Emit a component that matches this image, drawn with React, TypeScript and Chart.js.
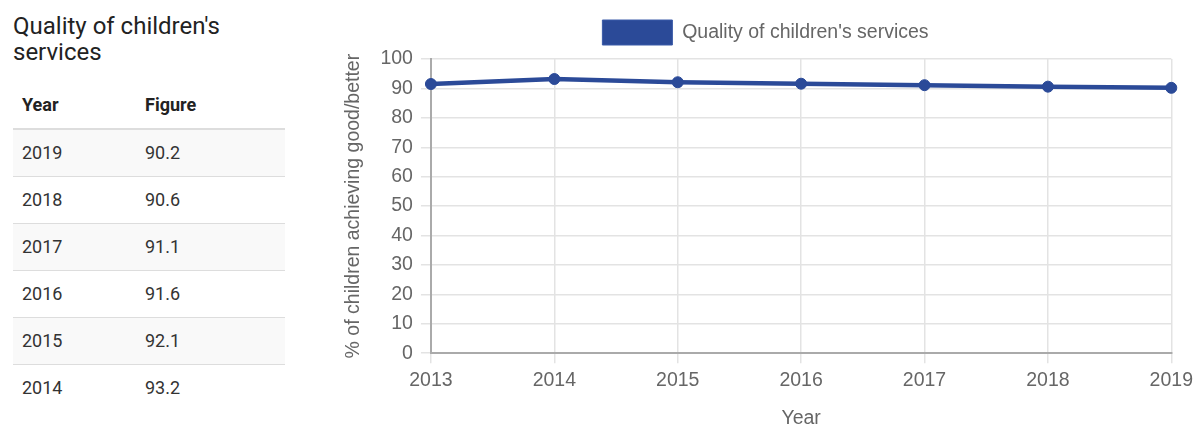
import React, { useEffect, useRef } from "react";
import { Chart, registerables } from "chart.js";

Chart.register(...registerables);

const chartYears = ["2013", "2014", "2015", "2016", "2017", "2018", "2019"];
const chartValues = [91.5, 93.2, 92.1, 91.6, 91.1, 90.6, 90.2];
const tableYears = ["2019", "2018", "2017", "2016", "2015", "2014"];
const tableFigures = ["90.2", "90.6", "91.1", "91.6", "92.1", "93.2"];
const seriesLabel = "Quality of children's services";
const yAxisTitle = "% of children achieving good/better";
const xAxisTitle = "Year";

const LINE = "#2b4a98";
const FONT = "'Liberation Sans', Arial, sans-serif";
const FS = 19.5;

const legendGap = {
  id: "legendGap",
  beforeInit(chart: any) {
    const legend = chart.legend;
    if (!legend) return;
    const orig = legend.fit;
    legend.fit = function () {
      orig.call(this);
      this.height += 4;
    };
  },
};

function LineChart() {
  const ref = useRef<HTMLCanvasElement | null>(null);
  useEffect(() => {
    if (!ref.current) return;
    const chart = new Chart(ref.current, {
      type: "line",
      data: {
        labels: chartYears,
        datasets: [
          {
            label: seriesLabel,
            data: chartValues,
            borderColor: LINE,
            backgroundColor: LINE,
            borderWidth: 4.5,
            pointRadius: 5.5,
            pointBackgroundColor: LINE,
            pointBorderColor: LINE,
            pointBorderWidth: 1,
            tension: 0,
            fill: false,
          },
        ],
      },
      plugins: [legendGap],
      options: {
        animation: false,
        responsive: false,
        maintainAspectRatio: false,
        layout: { padding: { top: 10, right: 10, bottom: 0, left: 7 } },
        plugins: {
          tooltip: { enabled: false },
          legend: {
            display: true,
            position: "top",
            labels: {
              boxWidth: 70,
              boxHeight: 25,
              color: "#666",
              padding: 10,
              font: { family: FONT, size: FS },
              generateLabels(c: any) {
                const items = Chart.defaults.plugins.legend.labels.generateLabels(c);
                return items.map((it: any) => ({ ...it, lineWidth: 1, strokeStyle: "#3a5aa8", fillStyle: LINE }));
              },
            },
          },
        },
        scales: {
          x: {
            grid: { color: "#e3e3e3", lineWidth: 1.5, tickLength: 10, tickColor: "#e3e3e3" },
            border: { color: "#aaa", width: 2 },
            ticks: { color: "#666", font: { family: FONT, size: FS }, padding: 6, maxRotation: 0 },
            title: { display: true, text: xAxisTitle, color: "#666", font: { family: FONT, size: FS }, padding: { top: 8, bottom: 0 } },
          },
          y: {
            min: 0,
            max: 100,
            grid: { color: "#e3e3e3", lineWidth: 1.5, tickLength: 10, tickColor: "#e3e3e3" },
            border: { color: "#aaa", width: 2 },
            ticks: { stepSize: 10, color: "#666", font: { family: FONT, size: FS }, padding: 8 },
            title: { display: true, text: yAxisTitle, color: "#666", font: { family: FONT, size: FS }, padding: { top: 0, bottom: 7 } },
          },
        },
      },
    });
    return () => chart.destroy();
  }, []);
  return <canvas ref={ref} width={864} height={430} style={{ display: "block", width: 864, height: 430 }} />;
}

export default function App() {
  const cell: React.CSSProperties = { padding: "0 9px", textAlign: "left" };
  return (
    <div style={{ position: "absolute", left: 0, top: 0, width: 1196, height: 425, background: "#fff", overflow: "hidden" }}>
      <div style={{ position: "absolute", left: 13, top: 13, width: 272, fontFamily: "Roboto, sans-serif" }}>
        <div style={{ fontSize: 24, lineHeight: "26px", color: "#222", fontWeight: 400 }}>{seriesLabel}</div>
        <table style={{ borderCollapse: "collapse", tableLayout: "fixed", width: 272, marginTop: 16, fontSize: 18, color: "#333" }}>
          <thead>
            <tr style={{ height: 48, borderBottom: "2px solid #ddd" }}>
              <th style={{ ...cell, width: 105, fontWeight: 700, color: "#222" }}>Year</th>
              <th style={{ ...cell, fontWeight: 700, color: "#222" }}>Figure</th>
            </tr>
          </thead>
          <tbody>
            {tableYears.map((y, i) => (
              <tr key={y} style={{ height: 47, background: i % 2 === 0 ? "#f9f9f9" : "#fff", borderTop: i === 0 ? "none" : "1px solid #ddd" }}>
                <td style={cell}>{y}</td>
                <td style={cell}>{tableFigures[i]}</td>
              </tr>
            ))}
          </tbody>
        </table>
      </div>
      <div style={{ position: "absolute", left: 335, top: 0 }}>
        <LineChart />
      </div>
    </div>
  );
}
